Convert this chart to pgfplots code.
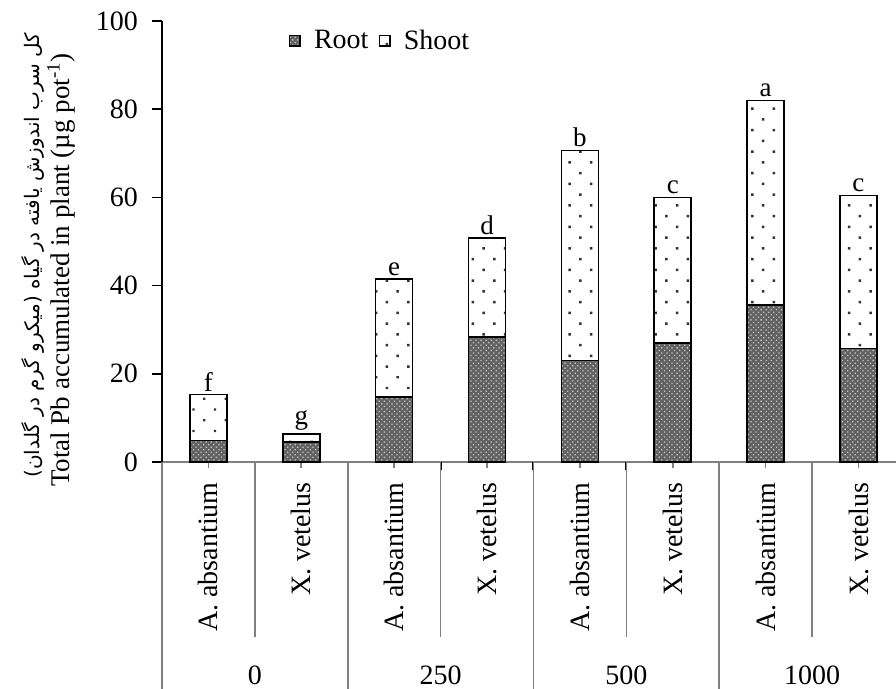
\documentclass[border=0pt]{standalone}
\usepackage{fontspec}
\setmainfont{Liberation Serif}
\newfontfamily\persianfont[Script=Arabic]{DejaVu Sans}
\TeXXeTstate=1
\usepackage{pgfplots}
\usepackage{pgfplotstable}
\pgfplotsset{compat=1.18}
\usetikzlibrary{patterns,patterns.meta}

\pgfplotstableread{
x root shoot total lab
0 4.9  10.4 15.3 f
1 4.5  1.8  6.3  g
2 14.8 26.7 41.5 e
3 28.3 22.5 50.8 d
4 23.0 47.6 70.6 b
5 27.0 33.0 60.0 c
6 35.6 46.4 82.0 a
7 25.7 34.7 60.4 c
}\datatable

\newcommand{\fs}{\fontsize{14}{16}\selectfont}
\pgfplotsset{frame/.style={at={(0,0)}, anchor=south west,
  scale only axis, width=367pt, height=220.5pt,
  xmin=-0.5, xmax=7.404, ymin=0, ymax=100, clip=false}}

\begin{document}
\begin{tikzpicture}
\begin{axis}[
  frame,
  ybar stacked, bar width=18.5pt,
  axis lines*=left,
  x axis line style={draw=gray, line width=0.8pt},
  y axis line style={draw=black, line width=0.8pt},
  xtick=\empty,
  ytick={0,20,40,60,80,100},
  tick align=outside, major tick length=5pt,
  tick style={black, line width=0.8pt},
  yticklabel style={font=\fs, xshift=-3.5pt, /pgf/number format/assume math mode=true},
  legend columns=-1,
  legend style={draw=none, fill=none, inner sep=0pt, font=\fs,
    at={(axis description cs:0.172,0.955)}, anchor=west,
    /tikz/every even column/.append style={column sep=3pt}},
  legend image code/.code={\draw[#1] (0pt,-2.7pt) rectangle (5.4pt,2.7pt); \path (9.9pt,0pt);},
]
\addplot[draw=black, line width=0.8pt, fill=black!62,
  postaction={pattern={Dots[angle=45, distance=1.8pt, radius=0.45pt]}, pattern color=white!78!black}]
  table[x=x, y=root] {\datatable};
\addlegendentry{Root}
\addplot[draw=black, line width=0.8pt, fill=white,
  postaction={pattern={Dots[angle=45, distance=7.6pt, radius=0.85pt]}, pattern color=black!80},
  legend image code/.code={\draw[black, line width=0.8pt, fill=white] (0pt,-2.7pt) rectangle (5.4pt,2.7pt); \path (9.9pt,0pt);}]
  table[x=x, y=shoot] {\datatable};
\addlegendentry{Shoot}

% category dividers
\pgfplotsinvokeforeach{-0.5,1.5,3.5,5.5}{
  \draw[gray, line width=0.8pt] (axis cs:#1,0) -- ([yshift=-113.5pt]axis cs:#1,0);
  \draw[black, line width=1pt] (axis cs:#1,0) -- ([yshift=-4pt]axis cs:#1,0);
}
\pgfplotsinvokeforeach{0.5,2.5,4.5,6.5}{
  \draw[gray, line width=0.8pt] (axis cs:#1,0) -- ([yshift=-87.5pt]axis cs:#1,0);
  \draw[black, line width=1pt] (axis cs:#1,0) -- ([yshift=-4pt]axis cs:#1,0);
}
\pgfplotsinvokeforeach{0,...,7}{
  \draw[gray, line width=0.8pt] (axis cs:#1,0) -- ([yshift=-3pt]axis cs:#1,0);
}
\pgfplotsinvokeforeach{0,2,4,6}{
  \node[rotate=90, anchor=east, inner sep=0pt, font=\fs] at ([yshift=-10pt]axis cs:#1,0) {A. absantium};
}
\pgfplotsinvokeforeach{1,3,5,7}{
  \node[rotate=90, anchor=east, inner sep=0pt, font=\fs] at ([yshift=-10pt]axis cs:#1,0) {X. vetelus};
}
\node[anchor=base, font=\fs] at ([yshift=-111.5pt]axis cs:0.5,0) {0};
\node[anchor=base, font=\fs] at ([yshift=-111.5pt]axis cs:2.5,0) {250};
\node[anchor=base, font=\fs] at ([yshift=-111.5pt]axis cs:4.5,0) {500};
\node[anchor=base, font=\fs] at ([yshift=-111.5pt]axis cs:6.5,0) {1000};
\end{axis}

% significance letters on top of the stacks
\begin{axis}[frame, hide axis]
\addplot[only marks, mark=none, nodes near coords, point meta=explicit symbolic,
  every node near coord/.append style={font=\fontsize{13.5}{15}\selectfont, inner sep=1.5pt, anchor=south, black}]
  table[x=x, y=total, meta=lab] {\datatable};
\end{axis}

\node[rotate=90, anchor=base, inner sep=0pt, font=\fontsize{13.5}{15}\selectfont]
  at (-46pt,96pt) {Total Pb accumulated in plant (µg pot\textsuperscript{-1})};
\node[rotate=90, anchor=base, inner sep=0pt, font=\persianfont\fontsize{10}{12}\selectfont]
  at (-61pt,103.5pt) {\beginR کل سرب اندوزش یافته در گیاه (میکرو گرم در گلدان)\endR};

\pgfresetboundingbox
\path (-81pt,-113.5pt) rectangle (367pt,231pt);
\end{tikzpicture}
\end{document}
